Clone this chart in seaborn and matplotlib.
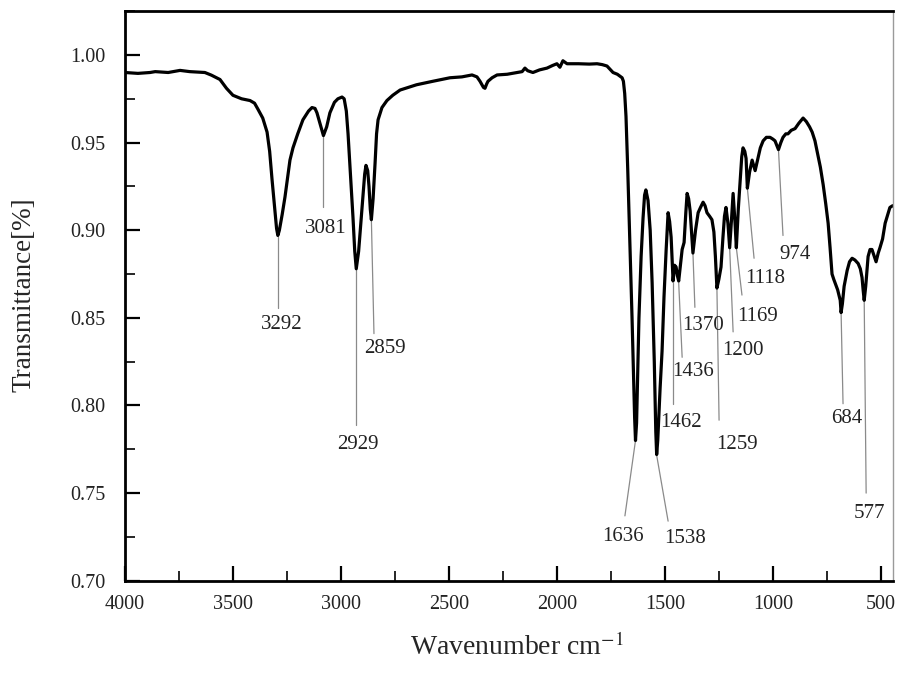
import numpy as np
import pandas as pd
import seaborn as sns
import matplotlib.pyplot as plt
from matplotlib.ticker import MultipleLocator

# spectrum (wavenumber, transmittance), 10 per row
wavenumber = [4000, 3940, 3884, 3860, 3800, 3745, 3700, 3630, 3600, 3560,
              3530, 3500, 3460, 3421, 3400, 3384, 3362, 3342, 3330, 3319,
              3305, 3298, 3292, 3285, 3272, 3259, 3246, 3236, 3222, 3200,
              3176, 3150, 3134, 3120, 3111, 3095, 3081, 3066, 3051, 3030,
              3014, 2995, 2985, 2975, 2967, 2955, 2944, 2936, 2929, 2918,
              2902, 2890, 2884, 2876, 2870, 2864, 2859, 2851, 2842, 2835,
              2828, 2810, 2787, 2760, 2726, 2650, 2574, 2495, 2440, 2393,
              2370, 2356, 2340, 2333, 2325, 2319, 2300, 2277, 2230, 2161,
              2148, 2135, 2111, 2080, 2046, 2020, 2000, 1986, 1972, 1953,
              1900, 1850, 1814, 1790, 1768, 1755, 1740, 1720, 1698, 1692,
              1686, 1680, 1672, 1661, 1652, 1645, 1640, 1636, 1631, 1620,
              1610, 1601, 1594, 1588, 1578, 1568, 1559, 1549, 1542, 1538,
              1533, 1522, 1513, 1504, 1494, 1485, 1478, 1471, 1466, 1462,
              1455, 1448, 1442, 1436, 1428, 1420, 1411, 1403, 1397, 1390,
              1383, 1376, 1370, 1358, 1346, 1335, 1323, 1314, 1305, 1293,
              1282, 1273, 1266, 1259, 1250, 1240, 1231, 1224, 1217, 1208,
              1200, 1192, 1184, 1175, 1169, 1160, 1152, 1144, 1138, 1130,
              1124, 1118, 1108, 1096, 1082, 1069, 1058, 1045, 1030, 1013,
              1000, 990, 974, 963, 953, 940, 930, 915, 897, 880,
              860, 845, 830, 818, 805, 795, 780, 767, 755, 744,
              735, 726, 718, 712, 700, 688, 684, 678, 670, 656,
              645, 633, 620, 605, 595, 587, 582, 577, 570, 559,
              550, 541, 530, 522, 512, 504, 492, 480, 468, 458,
              445]
transmittance = [0.990, 0.9895, 0.990, 0.9905, 0.990, 0.9912, 0.9905, 0.990, 0.9885, 0.986,
                 0.981, 0.977, 0.975, 0.974, 0.9725, 0.969, 0.964, 0.956, 0.945, 0.929,
                 0.910, 0.901, 0.897, 0.900, 0.909, 0.919, 0.931, 0.940, 0.947, 0.955,
                 0.963, 0.968, 0.970, 0.9695, 0.967, 0.960, 0.954, 0.959, 0.967, 0.973,
                 0.975, 0.976, 0.975, 0.968, 0.955, 0.930, 0.907, 0.888, 0.878, 0.888,
                 0.913, 0.932, 0.937, 0.934, 0.925, 0.912, 0.906, 0.918, 0.938, 0.955,
                 0.963, 0.970, 0.974, 0.977, 0.980, 0.983, 0.985, 0.987, 0.9875, 0.9886,
                 0.9875, 0.985, 0.9815, 0.981, 0.9835, 0.985, 0.987, 0.9886, 0.989, 0.9905,
                 0.9925, 0.991, 0.990, 0.9915, 0.9925, 0.994, 0.995, 0.993, 0.9967, 0.995,
                 0.995, 0.9948, 0.995, 0.9945, 0.9937, 0.992, 0.990, 0.989, 0.987, 0.985,
                 0.978, 0.965, 0.935, 0.889, 0.850, 0.818, 0.793, 0.780, 0.790, 0.850,
                 0.885, 0.907, 0.920, 0.923, 0.917, 0.900, 0.870, 0.825, 0.785, 0.772,
                 0.780, 0.810, 0.831, 0.862, 0.889, 0.910, 0.905, 0.896, 0.882, 0.871,
                 0.880, 0.879, 0.874, 0.871, 0.880, 0.889, 0.893, 0.910, 0.921, 0.918,
                 0.911, 0.898, 0.887, 0.900, 0.910, 0.913, 0.916, 0.914, 0.910, 0.908,
                 0.906, 0.899, 0.885, 0.867, 0.872, 0.879, 0.896, 0.908, 0.913, 0.904,
                 0.890, 0.905, 0.921, 0.904, 0.890, 0.912, 0.927, 0.942, 0.947, 0.945,
                 0.941, 0.924, 0.933, 0.940, 0.934, 0.941, 0.947, 0.951, 0.953, 0.953,
                 0.952, 0.951, 0.946, 0.950, 0.953, 0.955, 0.955, 0.957, 0.958, 0.961,
                 0.964, 0.962, 0.959, 0.956, 0.951, 0.945, 0.936, 0.926, 0.915, 0.904,
                 0.890, 0.875, 0.872, 0.870, 0.866, 0.860, 0.853, 0.858, 0.868, 0.877,
                 0.882, 0.884, 0.883, 0.881, 0.878, 0.873, 0.866, 0.860, 0.868, 0.885,
                 0.889, 0.889, 0.885, 0.882, 0.887, 0.890, 0.895, 0.904, 0.909, 0.913,
                 0.914]

# labelled peaks
peaks = [3292, 3081, 2929, 2859, 1636, 1538, 1462, 1436, 1370, 1259, 1200, 1169, 1118, 974, 684, 577]
peak_depth = [0.896, 0.953, 0.878, 0.906, 0.780, 0.7716, 0.870, 0.870, 0.887, 0.867, 0.890, 0.890,
              0.924, 0.946, 0.853, 0.860]

# leader line end (x, y) and label centre (x, y) for each peak
leader_end = [(3292, 0.8555), (3081, 0.913), (2929, 0.789), (2847, 0.841), (1685, 0.737),
              (1485, 0.734), (1462, 0.801), (1420, 0.8275), (1361, 0.856), (1249, 0.7916),
              (1184, 0.842), (1143, 0.863), (1087, 0.884), (953, 0.897), (675, 0.801), (568, 0.750)]
label_pos = [(3272, 0.846), (3069, 0.901), (2921, 0.778), (2796, 0.8325), (1694, 0.725),
             (1407, 0.724), (1425, 0.790), (1370, 0.8195), (1323, 0.8455), (1166, 0.778),
             (1138, 0.8315), (1073, 0.851), (1036, 0.8725), (897, 0.886), (656, 0.7925), (555, 0.7385)]

df = pd.DataFrame({'wavenumber': wavenumber, 'transmittance': transmittance})

sns.set_style("ticks")
plt.rcParams['font.family'] = ['Liberation Serif', 'DejaVu Serif']
plt.rcParams['mathtext.fontset'] = 'stix'

fig = plt.figure(figsize=(8.99, 7.00), dpi=100)
ax = fig.add_axes([0.139, 0.1704, 0.854, 0.8139])

sns.lineplot(data=df, x='wavenumber', y='transmittance', sort=False, color='black',
             linewidth=2.3, ax=ax)

for p, d, (ex, ey), (tx, ty) in zip(peaks, peak_depth, leader_end, label_pos):
    ax.plot([p, ex], [d, ey], color='#8a8a8a', linewidth=0.9, zorder=1)
    ax.text(tx, ty, str(p), ha='center', va='center', fontsize=15, color='#222222')

ax.set_xlim(4000, 445)
ax.set_ylim(0.70, 1.0251)
ax.xaxis.set_major_locator(MultipleLocator(500))
ax.xaxis.set_minor_locator(MultipleLocator(250))
ax.yaxis.set_major_locator(MultipleLocator(0.05))
ax.yaxis.set_minor_locator(MultipleLocator(0.025))
ax.yaxis.set_major_formatter(plt.FormatStrFormatter('%.2f'))

ax.tick_params(axis='both', which='major', direction='in', length=11, width=1.6,
               labelsize=14.5, colors='black', labelcolor='#222222')
ax.tick_params(axis='both', which='minor', direction='in', length=7, width=1.4)
ax.tick_params(axis='y', which='major', pad=14)
ax.tick_params(axis='x', which='major', pad=10)
ax.tick_params(top=False, right=False, which='both')

for side in ['left', 'bottom', 'top']:
    ax.spines[side].set_linewidth(2.0)
    ax.spines[side].set_color('black')
ax.spines['right'].set_linewidth(1.0)
ax.spines['right'].set_color('#9a9a9a')

ax.set_xlabel('Wavenumber cm$^{-1}$', fontsize=20)
ax.set_ylabel('Transmittance[%]', fontsize=19.5)
ax.xaxis.set_label_coords(0.51, -0.092)
ax.yaxis.set_label_coords(-0.1146, 0.5015)

fig.savefig('out.png', dpi=100)
